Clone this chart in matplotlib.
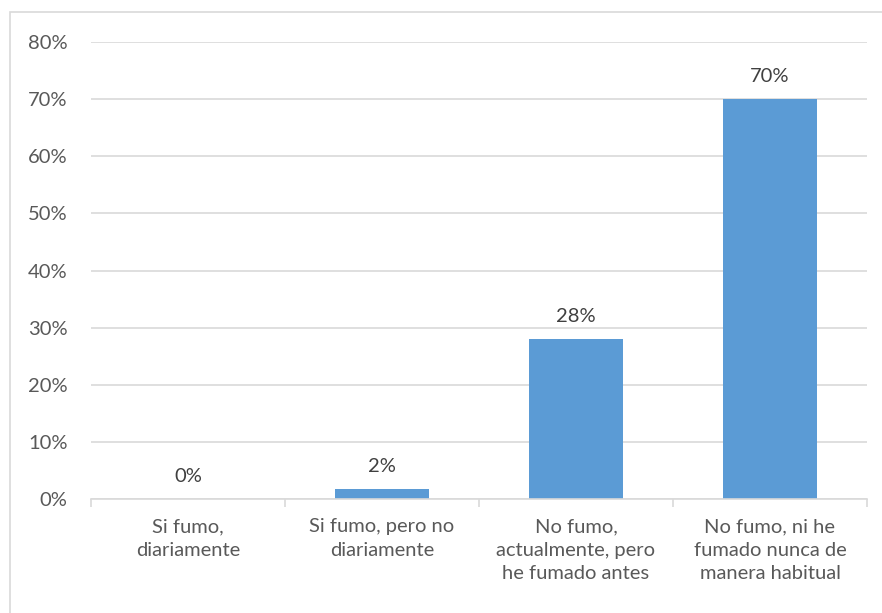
import matplotlib.pyplot as plt
import matplotlib.ticker as ticker
from matplotlib.patches import Rectangle

plt.rcParams['font.family'] = ['Lato', 'DejaVu Sans']
plt.rcParams['font.size'] = 14.5

categories = ["Si fumo,\ndiariamente",
              "Si fumo, pero no\ndiariamente",
              "No fumo,\nactualmente, pero\nhe fumado antes",
              "No fumo, ni he\nfumado nunca de\nmanera habitual"]
values = [0, 1.7, 28, 70]
labels = ["0%", "2%", "28%", "70%"]

bar_color = '#5b9bd5'
text_color = '#595959'
grid_color = '#d9d9d9'

fig = plt.figure(figsize=(8.82, 6.13), dpi=100)
ax = fig.add_axes([91 / 882, 1 - 499 / 613, 776 / 882, 457 / 613])

# рамка вокруг всей диаграммы
fig.patches.append(Rectangle((10 / 882, -0.1), 1.2, 1 - 12 / 613 + 0.1,
                             transform=fig.transFigure, fill=False,
                             edgecolor=grid_color, linewidth=1.2))

x = list(range(len(categories)))
ax.bar(x, values, width=0.48, color=bar_color, zorder=3)

for xi, v, lab in zip(x, values, labels):
    ax.annotate(lab, (xi, v), xytext=(0, 10), textcoords='offset points',
                ha='center', va='bottom', color='#404040')

ax.set_xlim(-0.5, 3.5)
ax.set_ylim(0, 80)
ax.yaxis.set_major_locator(ticker.MultipleLocator(10))
ax.yaxis.set_major_formatter(ticker.FuncFormatter(lambda v, p: f"{v:.0f}%"))
ax.grid(axis='y', color=grid_color, linewidth=1.2, zorder=0)

ax.set_xticks(x)
ax.set_xticklabels(categories, color=text_color, linespacing=1.45)
ax.tick_params(axis='x', length=0, pad=14)
ax.set_xticks([-0.5, 0.5, 1.5, 2.5, 3.5], minor=True)
ax.tick_params(axis='x', which='minor', length=6, color=grid_color, width=1.2)
ax.tick_params(axis='y', length=0, pad=17, colors=text_color)

for s in ['top', 'right', 'left']:
    ax.spines[s].set_visible(False)
ax.spines['bottom'].set_color(grid_color)
ax.spines['bottom'].set_linewidth(1.2)
ax.spines['bottom'].set_zorder(4)

fig.savefig('out.png', dpi=100)
